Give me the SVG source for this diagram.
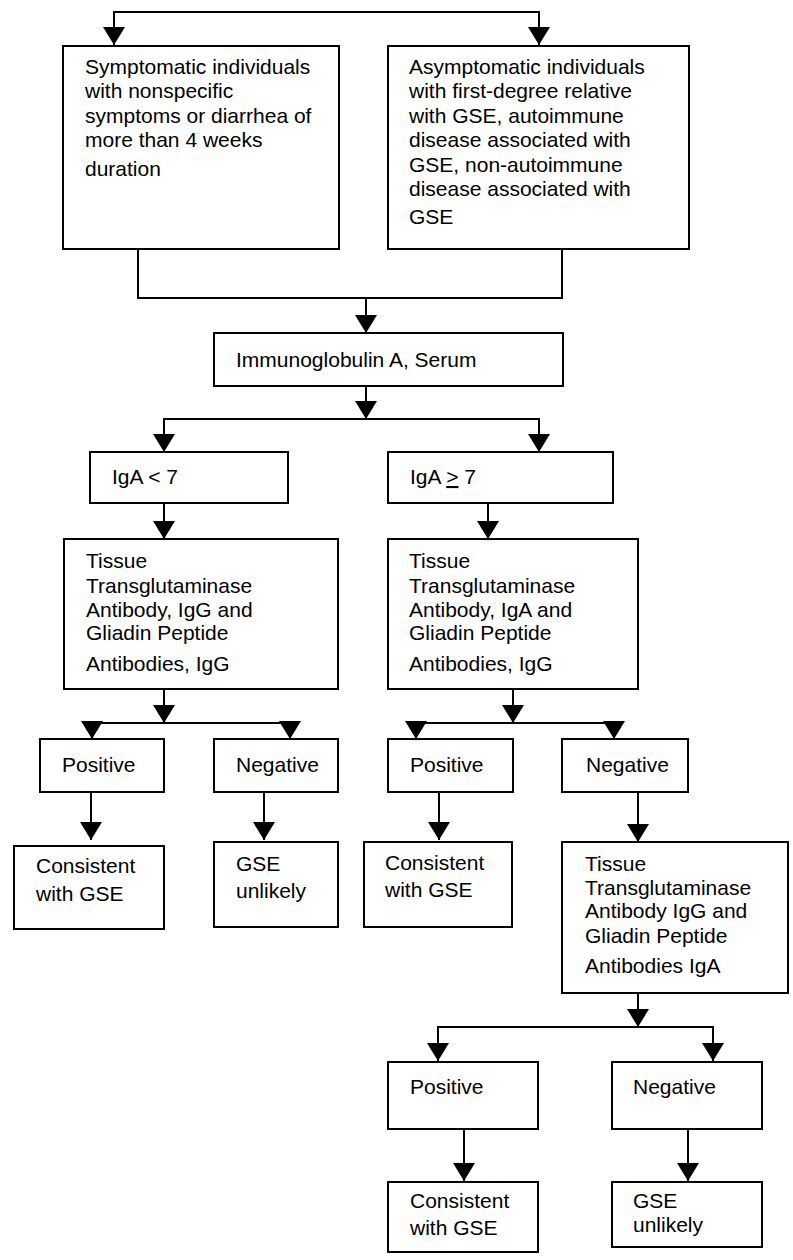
<svg xmlns="http://www.w3.org/2000/svg" width="793" height="1260" viewBox="0 0 793 1260">
<style>
.box{fill:#fff;stroke:#000;stroke-width:2}
.ln{fill:none;stroke:#000;stroke-width:2}
.ar{fill:none;stroke:#000;stroke-width:2;marker-end:url(#ah)}
text{font-family:"Liberation Sans",Arial,sans-serif;font-size:21px;fill:#000}
</style>
<defs>
<marker id="ah" viewBox="0 0 18 22" refX="18" refY="11" markerWidth="18" markerHeight="22" markerUnits="userSpaceOnUse" orient="auto">
<path d="M0,0 L18,11 L0,22 Z" fill="#000"/>
</marker>
</defs>
<rect width="793" height="1260" fill="#fff"/>
<g id="connectors">
<path class="ar" d="M326,12 H114 V45"/>
<path class="ar" d="M326,12 H539 V45"/>
<path class="ln" d="M138,249 V298 H562 V249"/>
<path class="ar" d="M366,298 V333"/>
<path class="ar" d="M366,386 V419"/>
<path class="ar" d="M366,419 H164 V452"/>
<path class="ar" d="M366,419 H539 V452"/>
<path class="ar" d="M164,503 V539"/>
<path class="ar" d="M488,489 V539"/>
<path class="ar" d="M164,689 V723"/>
<path class="ar" d="M164,723 H92 V739"/>
<path class="ar" d="M164,723 H290 V739"/>
<path class="ar" d="M513,689 V723"/>
<path class="ar" d="M513,723 H416 V739"/>
<path class="ar" d="M513,723 H614 V739"/>
<path class="ar" d="M91,792 V840"/>
<path class="ar" d="M264,792 V840"/>
<path class="ar" d="M439,792 V840"/>
<path class="ar" d="M638,792 V842"/>
<path class="ar" d="M638,993 V1027"/>
<path class="ar" d="M638,1027 H438 V1061"/>
<path class="ar" d="M638,1027 H713 V1061"/>
<path class="ar" d="M464,1129 V1181"/>
<path class="ar" d="M688,1129 V1181"/>
</g>
<g id="symptomatic">
<rect class="box" x="63" y="46" width="276" height="203"/>
<text x="85" y="74">Symptomatic individuals</text>
<text x="85" y="98">with nonspecific</text>
<text x="85" y="123">symptoms or diarrhea of</text>
<text x="85" y="147">more than 4 weeks</text>
<text x="85" y="176">duration</text>
</g>
<g id="asymptomatic">
<rect class="box" x="388" y="46" width="301" height="203"/>
<text x="409" y="74">Asymptomatic individuals</text>
<text x="409" y="98">with first-degree relative</text>
<text x="409" y="123">with GSE, autoimmune</text>
<text x="409" y="147">disease associated with</text>
<text x="409" y="172">GSE, non-autoimmune</text>
<text x="409" y="196">disease associated with</text>
<text x="409" y="224">GSE</text>
</g>
<g id="iga-serum">
<rect class="box" x="214" y="333" width="349" height="53"/>
<text x="236" y="367">Immunoglobulin A, Serum</text>
</g>
<g id="iga-low">
<rect class="box" x="90" y="452" width="198" height="51"/>
<text x="112" y="484">IgA &lt; 7</text>
</g>
<g id="iga-high">
<rect class="box" x="388" y="452" width="225" height="51"/>
<text x="410" y="484">IgA <tspan text-decoration="underline">&gt;</tspan> 7</text>
</g>
<g id="ttg-igg">
<rect class="box" x="64" y="539" width="274" height="150"/>
<text x="86" y="568">Tissue</text>
<text x="86" y="593">Transglutaminase</text>
<text x="86" y="617">Antibody, IgG and</text>
<text x="86" y="640">Gliadin Peptide</text>
<text x="86" y="671">Antibodies, IgG</text>
</g>
<g id="ttg-iga">
<rect class="box" x="388" y="539" width="250" height="150"/>
<text x="409" y="568">Tissue</text>
<text x="409" y="593">Transglutaminase</text>
<text x="409" y="617">Antibody, IgA and</text>
<text x="409" y="640">Gliadin Peptide</text>
<text x="409" y="671">Antibodies, IgG</text>
</g>
<g id="pos1">
<rect class="box" x="40" y="739" width="124" height="53"/>
<text x="62" y="772">Positive</text>
</g>
<g id="neg1">
<rect class="box" x="214" y="739" width="124" height="53"/>
<text x="236" y="772">Negative</text>
</g>
<g id="pos2">
<rect class="box" x="388" y="739" width="125" height="53"/>
<text x="410" y="772">Positive</text>
</g>
<g id="neg2">
<rect class="box" x="562" y="739" width="126" height="53"/>
<text x="586" y="772">Negative</text>
</g>
<g id="cons1">
<rect class="box" x="14" y="846" width="150" height="83"/>
<text x="36" y="873">Consistent</text>
<text x="36" y="901">with GSE</text>
</g>
<g id="unlikely1">
<rect class="box" x="214" y="842" width="124" height="85"/>
<text x="236" y="871">GSE</text>
<text x="236" y="898">unlikely</text>
</g>
<g id="cons2">
<rect class="box" x="364" y="842" width="148" height="85"/>
<text x="385" y="870">Consistent</text>
<text x="385" y="897">with GSE</text>
</g>
<g id="ttg-igg-iga">
<rect class="box" x="562" y="842" width="226" height="151"/>
<text x="585" y="871">Tissue</text>
<text x="585" y="895">Transglutaminase</text>
<text x="585" y="918">Antibody IgG and</text>
<text x="585" y="943">Gliadin Peptide</text>
<text x="585" y="973">Antibodies IgA</text>
</g>
<g id="pos3">
<rect class="box" x="388" y="1062" width="150" height="67"/>
<text x="410" y="1094">Positive</text>
</g>
<g id="neg3">
<rect class="box" x="612" y="1062" width="150" height="67"/>
<text x="633" y="1094">Negative</text>
</g>
<g id="cons3">
<rect class="box" x="388" y="1182" width="150" height="70"/>
<text x="410" y="1208">Consistent</text>
<text x="410" y="1235">with GSE</text>
</g>
<g id="unlikely3">
<rect class="box" x="612" y="1182" width="150" height="65"/>
<text x="633" y="1208">GSE</text>
<text x="633" y="1232">unlikely</text>
</g>
</svg>
